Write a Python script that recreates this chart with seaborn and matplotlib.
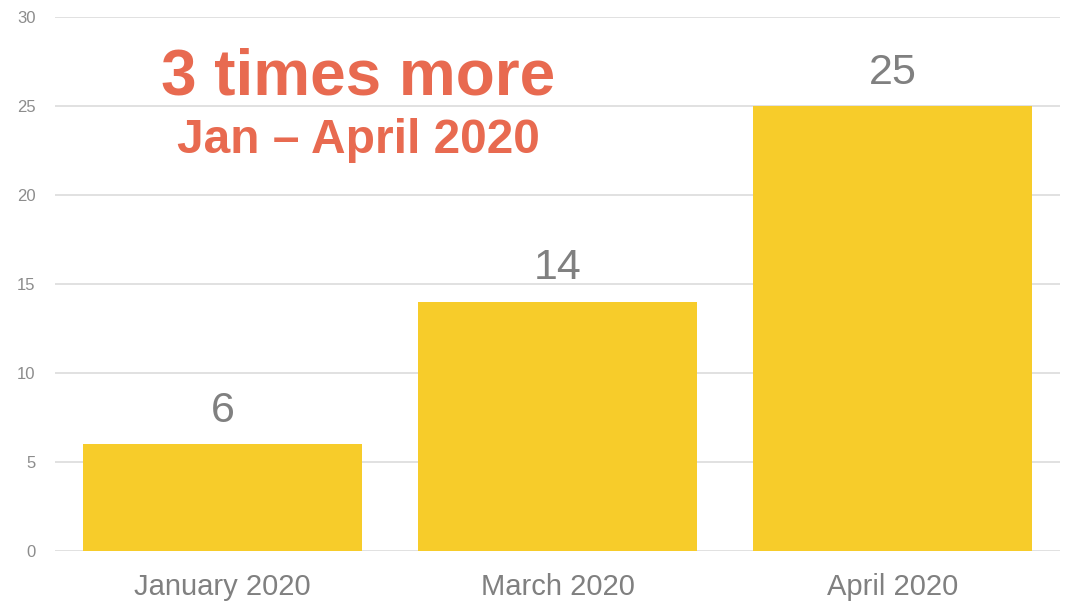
import matplotlib
matplotlib.use("Agg")
import matplotlib.pyplot as plt
import seaborn as sns
import pandas as pd

months = ["January 2020", "March 2020", "April 2020"]
counts = [6, 14, 25]
y_ticks = [0, 5, 10, 15, 20, 25, 30]

headline = "3 times more"
subline = "Jan \u2013 April 2020"

sns.set_theme(style="white")
plt.rcParams["font.family"] = ["Liberation Sans", "DejaVu Sans"]

df = pd.DataFrame({"month": months, "count": counts})

fig = plt.figure(figsize=(10.66, 6.02), dpi=100)
ax = fig.add_axes([0.0516, 0.0847, 0.9428, 0.8871])

sns.barplot(data=df, x="month", y="count", color="#F7CC2A", saturation=1,
            width=0.833, linewidth=0, ax=ax, zorder=3)

ax.set_xlim(-0.5, 2.5)
ax.set_ylim(0, 30)
ax.set_yticks(y_ticks)
ax.yaxis.grid(True, color="#DEDEDE", linewidth=1.3, zorder=0)
ax.set_axisbelow(True)
for s in ax.spines.values():
    s.set_visible(False)
ax.set_xlabel("")
ax.set_ylabel("")
ax.tick_params(axis="y", labelsize=12, labelcolor="#8C8C8C", length=0, pad=14)
ax.tick_params(axis="x", labelsize=21, labelcolor="#808080", length=0, pad=16)

for i, v in enumerate(counts):
    ax.text(i, v + 0.75, str(v), ha="center", va="bottom",
            fontsize=31, color="#808080")

ax.text(0.302, 0.887, headline, transform=ax.transAxes, ha="center",
        va="center", fontsize=46, fontweight="bold", color="#E86A50")
ax.text(0.302, 0.769, subline, transform=ax.transAxes, ha="center",
        va="center", fontsize=34.5, fontweight="bold", color="#E86A50")

fig.savefig("out.png", dpi=100)
